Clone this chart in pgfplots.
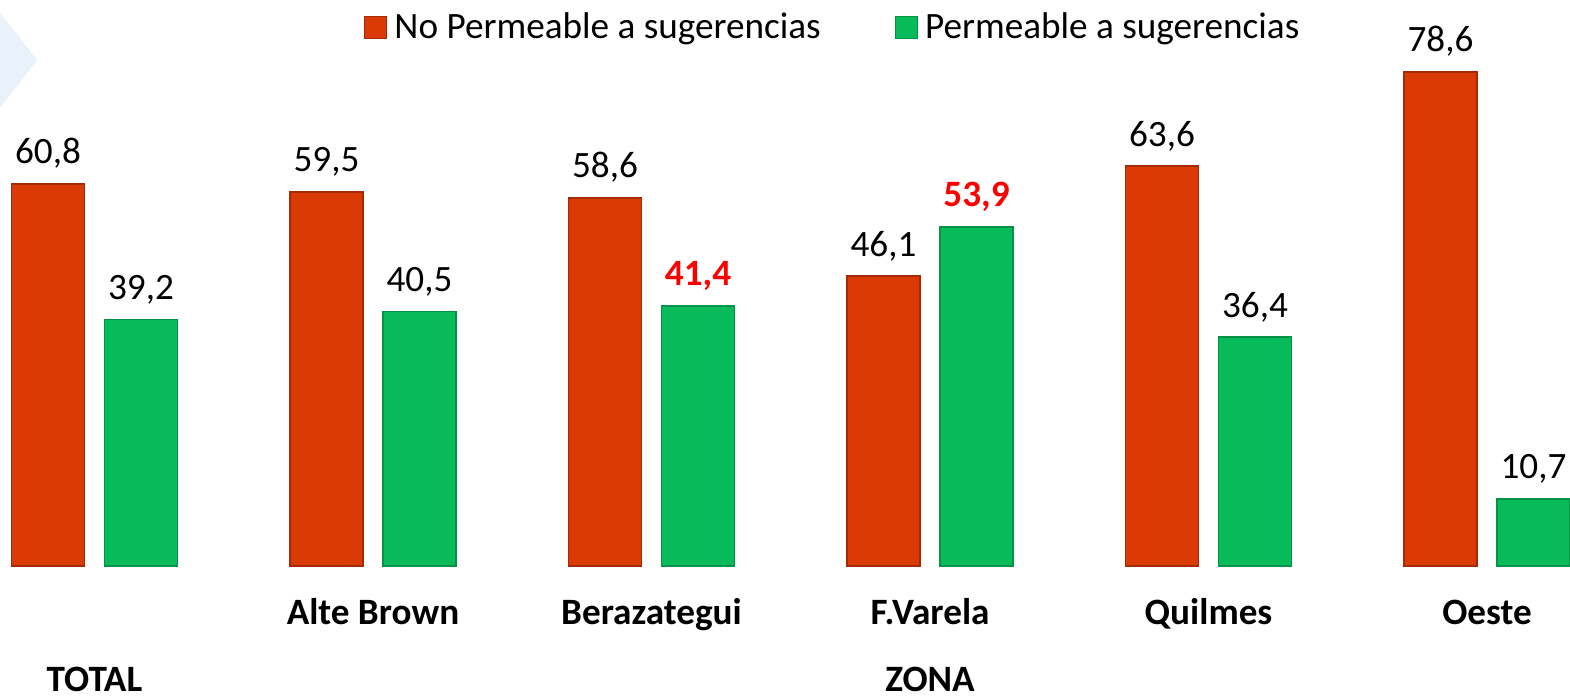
\documentclass[border=0pt]{standalone}
\usepackage{pgfplots}
\pgfplotsset{compat=1.18}
\usepackage{pgfplotstable}
\usepackage{fontspec}
\setmainfont{Carlito}
\definecolor{redbar}{RGB}{217,58,6}
\definecolor{rededge}{RGB}{165,42,5}
\definecolor{greenbar}{RGB}{7,187,90}
\definecolor{greenedge}{RGB}{5,145,70}
\definecolor{chev}{RGB}{233,241,250}
\newcommand\lblfont{\fontsize{18.6bp}{22bp}\selectfont}
\pgfplotstableread{
x y
0 60.8
1 59.5
2 58.6
3 46.1
4 63.6
5 78.6
}\notab
\pgfplotstableread{
x y
0 39.2
1 40.5
4 36.4
5 10.7
}\sitab
\pgfplotstableread{
x y
2 41.4
3 53.9
}\sihltab
\begin{document}
\begin{tikzpicture}
\useasboundingbox (0,0) rectangle (785bp,349bp);
\fill[chev] (0,342.5bp) -- (18.5bp,319bp) -- (0,295bp) -- cycle;
\begin{axis}[
  at={(0,66bp)}, anchor=south west, scale only axis,
  width=785bp, height=283bp,
  xmin=-0.3393, xmax=5.298, ymin=0, ymax=90.06,
  clip=false,
  axis line style={draw=none}, tick style={draw=none},
  ytick=\empty,
  xtick={1,2,3,4,5},
  xticklabels={Alte Brown,Berazategui,F.Varela,Quilmes,Oeste},
  xticklabel style={font=\lblfont\bfseries, anchor=base, yshift=-25bp},
  ybar, bar width=36.5bp,
  sqlegend/.style={legend image code/.code={\draw[##1, line width=0.6bp] (0bp,-5.5bp) rectangle (11bp,5.5bp); \path (12.5bp,0bp);}},
  nodes near coords style={font=\lblfont, anchor=south, yshift=4bp,
    /pgf/number format/fixed, /pgf/number format/fixed zerofill, /pgf/number format/precision=1,
    /pgf/number format/use comma, /pgf/number format/assume math mode=true},
  legend style={at={(axis description cs:0.5310,0.952)}, anchor=center, draw=none, fill=none,
    font=\lblfont, inner sep=0pt, /tikz/every even column/.append style={column sep=35bp}},
  legend columns=2,
]
\addplot[sqlegend, bar shift=-23.25bp, fill=redbar, draw=rededge, line width=0.8bp,
  nodes near coords] table[x=x, y=y] {\notab};
\addlegendentry{No Permeable a sugerencias}
\addplot[sqlegend, bar shift=23.25bp, fill=greenbar, draw=greenedge, line width=0.8bp,
  nodes near coords] table[x=x, y=y] {\sitab};
\addlegendentry{Permeable a sugerencias}
\addplot[forget plot, bar shift=23.25bp, fill=greenbar, draw=greenedge, line width=0.8bp,
  nodes near coords, every node near coord/.append style={text=red, font=\lblfont\bfseries}] table[x=x, y=y] {\sihltab};
\node[font=\lblfont\bfseries, anchor=base] at (axis cs:0,0) [yshift=-62.5bp] {TOTAL};
\node[font=\lblfont\bfseries, anchor=base] at (axis cs:3,0) [yshift=-62.5bp] {ZONA};
\end{axis}
\end{tikzpicture}
\end{document}
